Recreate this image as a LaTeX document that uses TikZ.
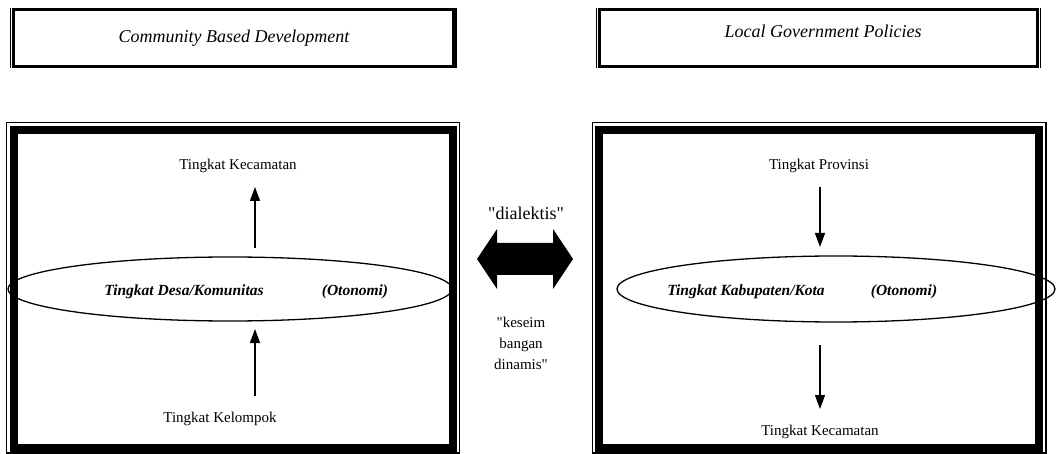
\documentclass[tikz,border=0pt]{standalone}
\usepackage{fontspec}
\setmainfont{Liberation Serif}[Ligatures=TeXOff]
\usetikzlibrary{arrows.meta}
\begin{document}
\begin{tikzpicture}[x=1pt,y=-1pt,
  thinrule/.style={line width=1.3pt},
  topframe/.style={line width=2.6pt},
  bigframe/.style={line width=8pt},
  lbl/.style={font=\fontsize{18}{21}\selectfont, inner sep=0pt, anchor=base},
  blbl/.style={lbl, font=\fontsize{15}{18}\selectfont},
  ilbl/.style={lbl, font=\fontsize{18}{21}\selectfont\itshape},
  bilbl/.style={lbl, font=\fontsize{15.5}{18}\selectfont\bfseries\itshape},
  arr/.style={line width=1.4pt, -{Triangle[width=10pt,length=14pt]}},
  oval/.style={line width=1.3pt}]
\useasboundingbox (0,0) rectangle (1057,454);

% top boxes
\draw[topframe] (13.5,9.5) rectangle (453.5,66.5);
\draw[thinrule] (10.5,8) -- (10.5,68);
\draw[thinrule] (456,8) -- (456,68);
\draw[topframe] (599.5,9.5) rectangle (1037.5,66.5);
\draw[thinrule] (596.5,8) -- (596.5,68);
\draw[thinrule] (1040.5,8) -- (1040.5,68);
\node[ilbl] (cbd) at (234,43) {Community Based Development};
\node[ilbl] (lgp) at (823,38) {Local Government Policies};

% big boxes
\draw[thinrule] (6.5,122.5) rectangle (459.5,453);
\draw[bigframe] (13.5,130) rectangle (452.5,448);
\draw[thinrule] (592.5,122.5) rectangle (1046,453);
\draw[bigframe] (599,130) rectangle (1039,448);

% ellipses
\draw[oval] (230,289) ellipse [x radius=222pt, y radius=32pt];
\draw[oval] (836,289) ellipse [x radius=219pt, y radius=33pt];

% left box texts
\node[blbl] (lkec) at (238,170) {Tingkat Kecamatan};
\node[bilbl] (desa) at (184,295) {Tingkat Desa/Komunitas};
\node[bilbl] (oto1) at (355,295) {(Otonomi)};
\node[blbl] (kel) at (220,422) {Tingkat Kelompok};
% right box texts
\node[blbl] (prov) at (819,170) {Tingkat Provinsi};
\node[bilbl] (kab) at (746,295) {Tingkat Kabupaten/Kota};
\node[bilbl] (oto2) at (904,295) {(Otonomi)};
\node[blbl] (rkec) at (820,435) {Tingkat Kecamatan};

% arrows
\coordinate (a1s) at (255,248); \coordinate (a1e) at (255,187);
\coordinate (a2s) at (255,396); \coordinate (a2e) at (255,329);
\coordinate (a3s) at (820,187); \coordinate (a3e) at (820,247);
\coordinate (a4s) at (820,345); \coordinate (a4e) at (820,409);
\draw[arr] (a1s) -- (a1e);
\draw[arr] (a2s) -- (a2e);
\draw[arr] (a3s) -- (a3e);
\draw[arr] (a4s) -- (a4e);

% middle
\node[lbl] (dia) at (526,220) {"dialektis"};
\fill (477,259) -- (497,229) -- (497,243) -- (553,243) -- (553,229) -- (573,259)
  -- (553,289) -- (553,275) -- (497,275) -- (497,289) -- cycle;
\node[blbl] (k1) at (521,327) {"keseim};
\node[blbl] (k2) at (521,348) {bangan};
\node[blbl] (k3) at (521,369) {dinamis"};
\end{tikzpicture}
\end{document}
